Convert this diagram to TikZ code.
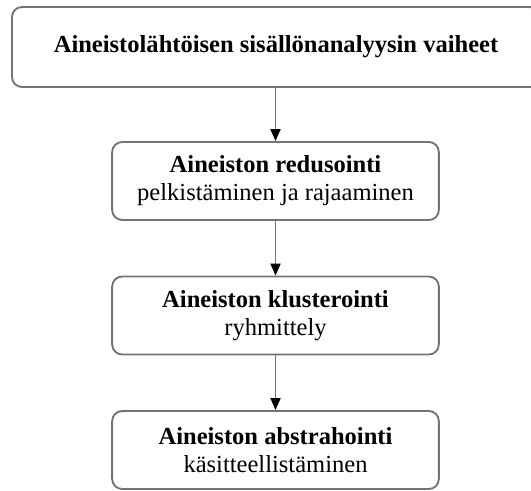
\documentclass[tikz,border=0pt]{standalone}
\usepackage{fontspec}
\setmainfont{Liberation Serif}
\usetikzlibrary{arrows.meta}
\definecolor{framegray}{gray}{0.45}
\begin{document}
\begin{tikzpicture}[x=0.75pt,y=-0.75pt,
  phase/.style={draw=framegray, line width=1.4pt, rounded corners=7.5pt,
    fill=white, align=center, inner sep=0pt,
    font=\fontsize{18.4}{21}\selectfont},
  stagebox/.style={phase, minimum width=245pt, minimum height=58.5pt},
  flow/.style={draw=framegray, line width=1.4pt,
    -{Triangle[length=9pt,width=7.5pt,black]}}
]
\useasboundingbox (0,0) rectangle (531,490);
\begin{scope}
\clip (0,0) rectangle (531,490);
\node[phase, minimum width=396pt, minimum height=60pt] (title) at (276,47)
  {\textbf{Aineistolähtöisen sisällönanalyysin vaiheet}};
\end{scope}
\node[stagebox] (red) at (275.5,181)
  {\textbf{Aineiston redusointi}\\pelkistäminen ja rajaaminen};
\node[stagebox] (klu) at (275.5,315.5)
  {\textbf{Aineiston klusterointi}\\ryhmittely};
\node[stagebox] (abs) at (275.5,450)
  {\textbf{Aineiston abstrahointi}\\käsitteellistäminen};
\draw[flow] (title.south -| red.north) -- (red.north);
\draw[flow] (red) -- (klu);
\draw[flow] (klu) -- (abs);
\end{tikzpicture}
\end{document}
